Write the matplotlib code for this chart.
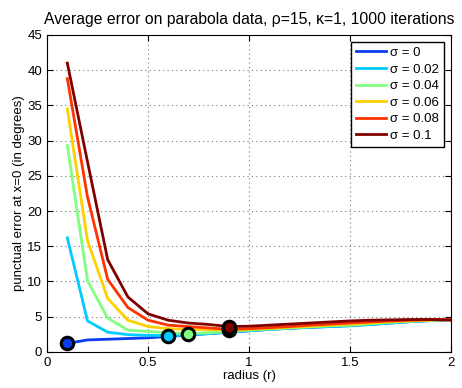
import numpy as np
import matplotlib
matplotlib.use("Agg")
import matplotlib.pyplot as plt

radius = [0.1, 0.2, 0.3, 0.4, 0.5, 0.6, 0.7, 0.8, 0.9, 1.0,
          1.1, 1.2, 1.3, 1.4, 1.5, 1.6, 1.7, 1.8, 1.9, 2.0]

sigmas = ["0", "0.02", "0.04", "0.06", "0.08", "0.1"]
colors = ["#0a3cf0", "#00ccff", "#80ff80", "#ffd000", "#ff3300", "#800000"]

err_s0 = [1.2, 1.7, 1.8, 1.9, 2.0, 2.2, 2.4, 2.6, 2.8, 3.0,
          3.2, 3.35, 3.5, 3.6, 3.75, 3.9, 4.1, 4.3, 4.45, 4.6]
err_s002 = [16.2, 4.4, 2.8, 2.45, 2.35, 2.3, 2.4, 2.6, 2.8, 3.0,
            3.2, 3.35, 3.5, 3.6, 3.7, 3.9, 4.1, 4.3, 4.45, 4.6]
err_s004 = [29.3, 10.1, 4.8, 3.1, 2.9, 2.7, 2.6, 2.7, 2.9, 3.1,
            3.25, 3.4, 3.55, 3.7, 3.8, 4.0, 4.2, 4.35, 4.5, 4.6]
err_s006 = [34.5, 15.8, 7.6, 4.5, 3.6, 3.3, 3.2, 3.15, 3.1, 3.2,
            3.35, 3.5, 3.65, 3.8, 3.95, 4.1, 4.3, 4.4, 4.5, 4.6]
err_s008 = [38.8, 22.0, 10.3, 6.3, 4.5, 3.8, 3.6, 3.4, 3.2, 3.3,
            3.45, 3.6, 3.8, 3.95, 4.1, 4.25, 4.4, 4.5, 4.6, 4.6]
err_s01 = [41.0, 27.0, 13.1, 7.8, 5.4, 4.5, 4.1, 3.9, 3.6, 3.65,
           3.8, 3.95, 4.1, 4.25, 4.4, 4.5, 4.55, 4.6, 4.6, 4.5]

errors = [err_s0, err_s002, err_s004, err_s006, err_s008, err_s01]

plt.rcParams["font.family"] = ["Liberation Sans", "DejaVu Sans"]
fig = plt.figure(figsize=(4.62, 3.88), dpi=100)
ax = fig.add_axes([0.102, 0.093, 0.874, 0.817])

for s, c, e in zip(sigmas, colors, errors):
    ax.plot(radius, e, color=c, lw=2, label="\u03c3 = " + s)

# circle on the minimum of each curve
for c, e in zip(colors, errors):
    i = int(np.argmin(e))
    ax.plot(radius[i], e[i], "o", ms=9, mfc=c, mec="black", mew=2.2, zorder=5)

ax.set_xlim(0, 2)
ax.set_ylim(0, 45)
ax.set_xticks([0, 0.5, 1, 1.5, 2])
ax.set_xticklabels(["0", "0.5", "1", "1.5", "2"])
ax.set_yticks(np.arange(0, 46, 5))
ax.grid(True, ls=(0, (1, 3)), color="#777777", lw=0.8)
ax.tick_params(direction="in", labelsize=9.5, length=4, top=True, right=True)
for sp in ax.spines.values():
    sp.set_linewidth(0.8)

ax.set_xlabel("radius (r)", fontsize=9.5, labelpad=1)
ax.set_ylabel("punctual error at x=0 (in degrees)", fontsize=9.5, labelpad=2)
ax.set_title("Average error on parabola data, \u03c1=15, \u03ba=1, 1000 iterations",
             fontsize=11.3, pad=8)

leg = ax.legend(loc="upper right", fontsize=9.5, fancybox=False, framealpha=1,
                edgecolor="black", handlelength=2.3, handletextpad=0.3,
                labelspacing=0.33, borderaxespad=0.5)
leg.get_frame().set_linewidth(1)

fig.savefig("out.png", dpi=100)
